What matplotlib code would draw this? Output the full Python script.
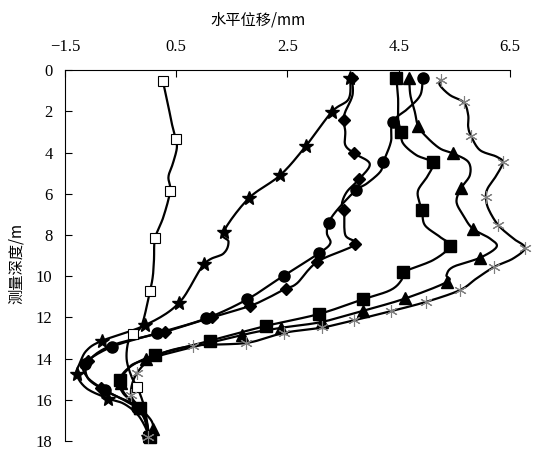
import numpy as np
import matplotlib
matplotlib.use("Agg")
import matplotlib.pyplot as plt

# ----------------------------------------------
# DATA (horizontal displacement in mm, depth in m)
# idx lists = points that carry a marker
# ----------------------------------------------
sq_open_x = [0.26, 0.36, 0.42, 0.49, 0.51, 0.44, 0.36, 0.39, 0.27, 0.12, 0.10, 0.08, 0.03,
             -0.12, -0.28, -0.37, -0.39, -0.30, -0.20, -0.09, -0.02, 0.00]
sq_open_d = [0.53, 1.78, 2.59, 3.35, 3.80, 4.53, 5.18, 5.87, 7.12, 8.16, 9.20, 9.98, 10.70,
             12.38, 12.80, 13.27, 14.08, 14.90, 15.40, 16.20, 17.15, 17.80]
sq_open_idx = [0, 3, 7, 9, 12, 14, 18, 21]

star_x = [3.63, 3.60, 3.30, 2.83, 2.37, 1.80, 1.35, 1.44, 1.35, 1.00, 0.55, -0.06, -0.84,
          -1.11, -1.23, -1.29, -1.11, -0.72, -0.45, -0.21, -0.06, 0.00]
star_d = [0.40, 1.40, 2.02, 3.69, 5.10, 6.23, 7.85, 8.33, 8.90, 9.42, 11.30, 12.38, 13.14,
          13.60, 14.20, 14.77, 15.45, 15.94, 16.18, 16.67, 17.30, 17.80]
star_idx = [0, 2, 3, 4, 5, 6, 9, 10, 11, 12, 15, 17, 21]

dia_x = [3.66, 3.67, 3.54, 3.51, 3.54, 3.54, 3.70, 3.98, 3.79, 3.57, 3.48, 3.52, 3.54, 3.72,
         3.04, 2.67, 2.47, 2.19, 1.83, 1.14, 0.30, -0.65, -1.08, -1.10, -0.85, -0.55, -0.28,
         -0.10, -0.02, 0.02]
dia_d = [0.40, 1.21, 2.02, 2.43, 2.99, 3.64, 4.04, 4.55, 5.29, 5.90, 6.47, 6.80, 8.00, 8.46,
         9.30, 10.35, 10.60, 11.00, 11.44, 12.00, 12.70, 13.35, 14.13, 14.90, 15.45, 15.86,
         16.18, 16.67, 17.30, 17.80]
dia_idx = [0, 3, 6, 8, 11, 13, 14, 16, 18, 19, 20, 22, 24, 29]

cir_x = [4.93, 4.89, 4.67, 4.39, 4.36, 4.22, 4.17, 3.93, 3.73, 3.39, 3.24, 3.21, 3.27, 3.06,
         2.43, 1.78, 1.04, 0.15, -0.66, -1.14, -1.10, -0.78, -0.45, -0.21, -0.06, 0.00]
cir_d = [0.40, 1.21, 1.86, 2.51, 3.48, 4.48, 4.93, 5.50, 5.83, 6.80, 7.41, 7.93, 8.41, 8.90,
         9.98, 11.12, 12.05, 12.78, 13.43, 14.24, 14.90, 15.53, 16.00, 16.40, 17.00, 17.80]
cir_idx = [0, 3, 5, 8, 10, 13, 14, 15, 16, 17, 18, 19, 21, 23, 25]

sqf_x = [4.46, 4.49, 4.49, 4.54, 4.58, 4.82, 5.11, 5.03, 4.85, 4.87, 4.92, 4.97, 5.24, 5.42,
         5.12, 4.57, 4.55, 4.35, 3.85, 3.06, 2.12, 1.10, 0.12, -0.33, -0.52, -0.45, -0.15,
         -0.04, 0.02]
sqf_d = [0.40, 1.38, 2.35, 3.00, 3.56, 4.13, 4.48, 5.10, 5.83, 6.39, 6.80, 7.52, 8.09, 8.54,
         9.22, 9.82, 10.19, 10.68, 11.13, 11.84, 12.41, 13.14, 13.83, 14.40, 15.05, 15.70,
         16.40, 17.00, 17.80]
sqf_idx = [0, 3, 6, 10, 13, 15, 18, 19, 20, 21, 22, 24, 26, 28]

tri_x = [4.69, 4.71, 4.79, 4.85, 5.00, 5.24, 5.47, 5.75, 5.78, 5.62, 5.54, 5.66, 5.83, 6.14,
         6.26, 5.96, 5.48, 5.36, 5.37, 4.62, 3.86, 3.12, 2.38, 1.68, -0.04, -0.38, -0.50,
         -0.40, -0.15, 0.05, 0.08, 0.02]
tri_d = [0.40, 1.21, 2.02, 2.72, 3.24, 3.80, 4.04, 4.45, 5.10, 5.74, 6.39, 7.04, 7.69, 8.17,
         8.58, 9.11, 9.55, 9.95, 10.28, 11.08, 11.68, 12.22, 12.51, 12.86, 14.04, 14.55,
         15.20, 15.80, 16.40, 17.00, 17.40, 17.80]
tri_idx = [0, 3, 6, 9, 12, 15, 18, 19, 20, 21, 22, 23, 24, 26, 28, 30]

ast_x = [5.26, 5.24, 5.42, 5.67, 5.75, 5.75, 5.80, 5.96, 6.26, 6.37, 6.26, 6.10, 6.07, 6.11,
         6.29, 6.56, 6.77, 6.56, 6.22, 5.90, 5.60, 4.99, 4.36, 3.70, 3.13, 2.44, 1.76, 0.80,
         0.15, -0.21, -0.31, -0.10, 0.00]
ast_d = [0.49, 0.73, 1.21, 1.57, 2.18, 2.75, 3.19, 3.88, 4.20, 4.48, 5.10, 5.74, 6.15, 6.71,
         7.52, 8.17, 8.62, 9.14, 9.55, 10.11, 10.68, 11.25, 11.70, 12.14, 12.49, 12.75, 13.24,
         13.38, 13.85, 14.72, 15.78, 16.60, 17.80]
ast_idx = [0, 3, 6, 9, 12, 14, 16, 18, 20, 21, 22, 23, 24, 25, 26, 27, 29, 30, 32]

x_ticks = [-1.5, 0.5, 2.5, 4.5, 6.5]
y_ticks = [0, 2, 4, 6, 8, 10, 12, 14, 16, 18]


def smooth(x, y, n=12):
    # catmull-rom through the points, similar to excel smoothed lines
    p = np.column_stack([x, y]).astype(float)
    p = np.vstack([p[0], p, p[-1]])
    out = []
    t = np.linspace(0, 1, n, endpoint=False)[:, None]
    for i in range(1, len(p) - 2):
        p0, p1, p2, p3 = p[i - 1], p[i], p[i + 1], p[i + 2]
        seg = 0.5 * ((2 * p1) + (-p0 + p2) * t + (2 * p0 - 5 * p1 + 4 * p2 - p3) * t ** 2
                     + (-p0 + 3 * p1 - 3 * p2 + p3) * t ** 3)
        out.append(seg)
    out.append(p[-2][None, :])
    out = np.vstack(out)
    return out[:, 0], out[:, 1]


fig = plt.figure(figsize=(5.36, 4.54), dpi=100)
ax = fig.add_axes([0.1213, 0.0286, 0.830, 0.817])

series = [
    (sq_open_x, sq_open_d, sq_open_idx, dict(marker='s', ms=7, mfc='white', mec='black', mew=0.8)),
    (star_x, star_d, star_idx, dict(marker='*', ms=10, mfc='black', mec='black')),
    (dia_x, dia_d, dia_idx, dict(marker='D', ms=6, mfc='black', mec='black')),
    (cir_x, cir_d, cir_idx, dict(marker='o', ms=8, mfc='black', mec='black')),
    (sqf_x, sqf_d, sqf_idx, dict(marker='s', ms=8, mfc='black', mec='black')),
    (tri_x, tri_d, tri_idx, dict(marker='^', ms=8, mfc='black', mec='black')),
    (ast_x, ast_d, ast_idx, dict(marker=(6, 2, 0), ms=9, mfc='none', mec='#808080', mew=0.8)),
]

for xs, ds, idx, mk in series:
    sx, sy = smooth(xs, ds)
    ax.plot(sx, sy, color='black', lw=1.6, clip_on=False, zorder=2)
    mx = np.array(xs)[idx]
    my = np.array(ds)[idx]
    ax.plot(mx, my, ls='none', clip_on=False, zorder=3, **mk)

ax.set_xlim(-1.5, 6.5)
ax.set_ylim(18, 0)
ax.set_xticks(x_ticks)
ax.set_yticks(y_ticks)
ax.set_xticklabels(['\u22121.5', '0.5', '2.5', '4.5', '6.5'], fontfamily='Liberation Serif', fontsize=12)
ax.set_yticklabels([str(v) for v in y_ticks], fontfamily='Liberation Serif', fontsize=12)

ax.xaxis.tick_top()
ax.tick_params(axis='x', direction='in', length=5, width=0.8, pad=11)
ax.tick_params(axis='y', direction='in', length=5, width=0.8, pad=9)
ax.spines['right'].set_visible(False)
ax.spines['bottom'].set_visible(False)
ax.spines['top'].set_linewidth(0.8)
ax.spines['left'].set_linewidth(0.8)

fig.text(258 / 536, 1 - 20 / 454, '水平位移/mm', ha='center', va='center',
         fontsize=11, family=['Noto Sans CJK SC', 'DejaVu Sans'])
fig.text(16 / 536, 1 - 263 / 454, '测量深度/m', ha='center', va='center', rotation=90,
         fontsize=11, family=['Noto Sans CJK SC', 'DejaVu Sans'])

fig.savefig('out.png', dpi=100)
